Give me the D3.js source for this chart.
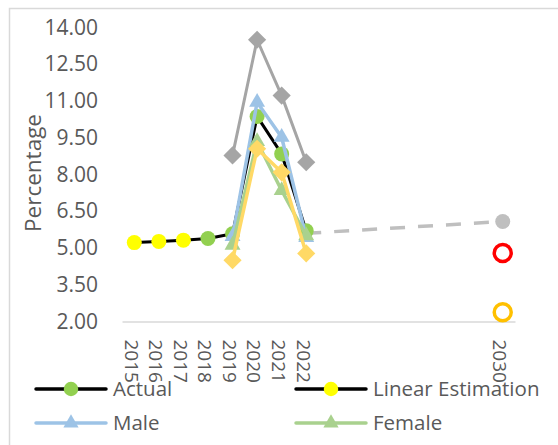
<!DOCTYPE html>
<html>
<head>
<meta charset="utf-8">
<script src="https://cdn.jsdelivr.net/npm/d3@7"></script>
<style>
  body { margin: 0; background: #fff; }
  text { font-family: "Open Sans", sans-serif; fill: #595959; }
</style>
</head>
<body>
<svg id="chart" width="558" height="445"></svg>
<script>
// categories on the x axis (2023-2029 are empty slots)
const years = ["2015","2016","2017","2018","2019","2020","2021","2022",
  "2023","2024","2025","2026","2027","2028","2029","2030"];
const tickLabels = ["2015","2016","2017","2018","2019","2020","2021","2022",
  "","","","","","","","2030"];
const yTicks = [2, 3.5, 5, 6.5, 8, 9.5, 11, 12.5, 14];

const linearYears = ["2015","2016","2017"];
const linearVals = [5.22, 5.27, 5.32];
const actualYears = ["2018","2019","2020","2021","2022"];
const actualVals = [5.39, 5.58, 10.37, 8.84, 5.70];
const genderYears = ["2019","2020","2021","2022"];
const maleVals = [5.47, 10.95, 9.52, 5.43];
const femaleVals = [5.12, 9.35, 7.35, 5.50];
const upperVals = [8.78, 13.5, 11.22, 8.5];
const lowerVals = [4.5, 9.05, 8.09, 4.78];
const projYears = ["2022","2030"];
const projVals = [5.6, 6.08];
const targetRed = 4.8;
const targetOrange = 2.38;

let svg = d3.select("#chart");

// outer chart border
svg.append("rect")
  .attr("x", 9.5).attr("y", 8.5)
  .attr("width", 700).attr("height", 600)
  .attr("fill", "none").attr("stroke", "#d9d9d9").attr("stroke-width", 1.5);

let x = d3.scaleBand().domain(years).range([122, 515]);
let y = d3.scaleLinear().domain([2, 14]).range([321.5, 27.5]);
let xc = function(yr){ return x(yr) + x.bandwidth()/2; };

// x axis
let xAxis = svg.append("g")
  .attr("transform", "translate(0,321.5)")
  .call(d3.axisBottom(x).tickSize(0).tickFormat(function(d,i){ return tickLabels[i]; }));
xAxis.select(".domain").attr("stroke", "#d9d9d9").attr("stroke-width", 1.5);
xAxis.selectAll("text")
  .attr("transform", null)
  .attr("x", null).attr("y", null)
  .attr("dy", null)
  .style("font-size", "19px")
  .attr("text-anchor", "start")
  .attr("fill", "#595959")
  .attr("transform", "translate(-3,18) rotate(90)")
  .attr("dy", "0.35em");

// y axis labels
let yAxis = svg.append("g")
  .attr("transform", "translate(108,0)")
  .call(d3.axisLeft(y).tickValues(yTicks).tickSize(0).tickPadding(10).tickFormat(d3.format(".2f")));
yAxis.select(".domain").remove();
yAxis.selectAll("text").style("font-size", "21px").attr("fill", "#595959");

svg.append("text")
  .attr("transform", "translate(33,173) rotate(-90)")
  .attr("text-anchor", "middle")
  .attr("dy", "0.35em")
  .style("font-size", "22.5px")
  .text("Percentage");

let line = d3.line().x(function(d){ return xc(d[0]); }).y(function(d){ return y(d[1]); });
let zip = function(ks, vs){ return ks.map(function(k,i){ return [k, vs[i]]; }); };

function drawSeries(pts, color, width, dash){
  svg.append("path")
    .datum(pts)
    .attr("d", line)
    .attr("fill", "none")
    .attr("stroke", color)
    .attr("stroke-width", width)
    .attr("stroke-linejoin", "round")
    .attr("stroke-dasharray", dash || null);
}
function drawMarkers(pts, shape, color){
  let sym = d3.symbol().type(shape === "diamond" ? d3.symbolSquare : d3.symbolTriangle)
    .size(shape === "diamond" ? 165 : 110);
  svg.append("g").selectAll("path")
    .data(pts).enter()
    .append("path")
    .attr("d", sym)
    .attr("transform", function(d){
      return "translate(" + xc(d[0]) + "," + y(d[1]) + ")" + (shape === "diamond" ? " rotate(45)" : "");
    })
    .attr("fill", color);
}
function drawCircles(pts, color, r){
  svg.append("g").selectAll("circle")
    .data(pts).enter()
    .append("circle")
    .attr("cx", function(d){ return xc(d[0]); })
    .attr("cy", function(d){ return y(d[1]); })
    .attr("r", r)
    .attr("fill", color);
}

// upper band (gray diamonds)
let upperPts = zip(genderYears, upperVals);
drawSeries(upperPts, "#a5a5a5", 3);
drawMarkers(upperPts, "diamond", "#a5a5a5");

// projection dashed to 2030
let projPts = zip(projYears, projVals);
drawSeries(projPts, "#bfbfbf", 3.5, "15,13");
drawCircles([projPts[1]], "#bfbfbf", 7.5);

// targets 2030
svg.append("g").selectAll("circle")
  .data([[targetRed, "#ff0000"], [targetOrange, "#ffc000"]]).enter()
  .append("circle")
  .attr("cx", xc("2030"))
  .attr("cy", function(d){ return y(d[0]); })
  .attr("r", 8.5)
  .attr("fill", "none")
  .attr("stroke", function(d){ return d[1]; })
  .attr("stroke-width", 3.5);

// actual + linear estimation (black line)
let linearPts = zip(linearYears, linearVals);
let actualPts = zip(actualYears, actualVals);
drawSeries(linearPts.concat(actualPts), "#000", 3);
drawCircles(linearPts, "#ffff00", 7.5);
drawCircles(actualPts, "#92d050", 7.5);

// male / female
let malePts = zip(genderYears, maleVals);
drawSeries(malePts, "#9dc3e6", 3.5);
drawMarkers(malePts, "triangle", "#9dc3e6");
let femalePts = zip(genderYears, femaleVals);
drawSeries(femalePts, "#a9d18e", 3.5);
drawMarkers(femalePts, "triangle", "#a9d18e");

// lower band (orange diamonds)
let lowerPts = zip(genderYears, lowerVals);
drawSeries(lowerPts, "#ffd966", 3.5);
drawMarkers(lowerPts, "diamond", "#ffd966");

// legend
const legendItems = [
  {name: "Actual", line: "#000", marker: "circle", color: "#92d050", lx: 36, ly: 389},
  {name: "Linear Estimation", line: "#000", marker: "circle", color: "#ffff00", lx: 296, ly: 389},
  {name: "Male", line: "#9dc3e6", marker: "triangle", color: "#9dc3e6", lx: 36, ly: 423},
  {name: "Female", line: "#a9d18e", marker: "triangle", color: "#a9d18e", lx: 296, ly: 423}
];
let leg = svg.append("g").selectAll("g").data(legendItems).enter().append("g");
leg.append("line")
  .attr("x1", function(d){ return d.lx; }).attr("x2", function(d){ return d.lx + 70; })
  .attr("y1", function(d){ return d.ly; }).attr("y2", function(d){ return d.ly; })
  .attr("stroke", function(d){ return d.line; })
  .attr("stroke-width", 3.5)
  .attr("stroke-linecap", "round");
leg.append("path")
  .attr("d", function(d){
    return d.marker === "circle" ? d3.symbol().type(d3.symbolCircle).size(165)() : d3.symbol().type(d3.symbolTriangle).size(100)();
  })
  .attr("transform", function(d){ return "translate(" + (d.lx + 35) + "," + d.ly + ")"; })
  .attr("fill", function(d){ return d.color; });
leg.append("text")
  .attr("x", function(d){ return d.lx + 77; })
  .attr("y", function(d){ return d.ly; })
  .attr("dy", "0.35em")
  .style("font-size", "20.5px")
  .text(function(d){ return d.name; });
</script>
</body>
</html>
